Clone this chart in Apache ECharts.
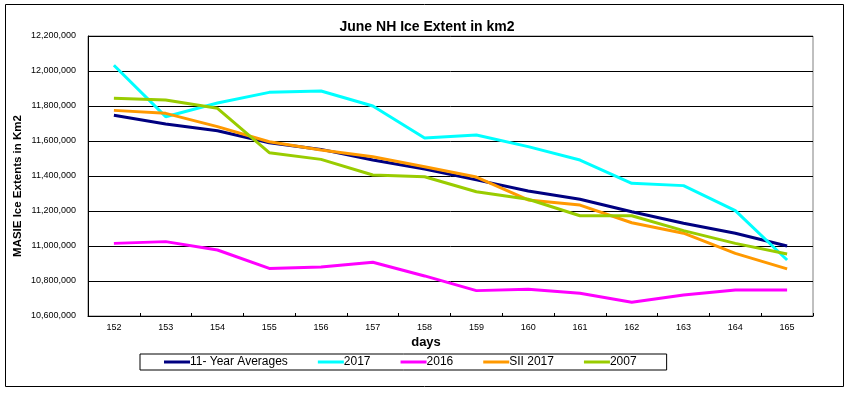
<!DOCTYPE html>
<html><head><meta charset="utf-8">
<script src="https://cdn.jsdelivr.net/npm/echarts@6/dist/echarts.min.js"></script>
<style>html,body{margin:0;padding:0;background:#fff}#c{width:854px;height:394px}</style>
</head><body><div id="c"></div>
<script>
var days = ['152','153','154','155','156','157','158','159','160','161','162','163','164','165'];
var avg11 = [11747000,11697000,11659000,11590000,11552000,11491000,11440000,11378000,11314000,11267000,11196000,11130000,11073000,11000000];
var y2017 = [12033000,11739000,11817000,11878000,11886000,11800000,11617000,11634000,11568000,11491000,11358000,11345000,11202000,10920000];
var y2016 = [11015000,11025000,10977000,10872000,10880000,10907000,10829000,10745000,10753000,10730000,10678000,10720000,10749000,10749000];
var sii2017 = [11775000,11758000,11682000,11596000,11549000,11510000,11453000,11394000,11263000,11234000,11133000,11073000,10958000,10869000];
var y2007 = [11844000,11834000,11787000,11533000,11495000,11406000,11396000,11310000,11267000,11173000,11173000,11088000,11015000,10954000];
var seriesNames = ['11- Year Averages','2017','2016','SII 2017','2007'];
var seriesColors = ['#000080','#00FFFF','#FF00FF','#FF9900','#99CC00'];
var seriesData = [avg11, y2017, y2016, sii2017, y2007];

var chart = echarts.init(document.getElementById('c'), null, {renderer:'canvas'});
var font = 'Arial, "Liberation Sans", sans-serif';
chart.setOption({
  animation:false,
  backgroundColor:'#fff',
  title:{text:'June NH Ice Extent in km2', left:'center', top:15,
    textStyle:{fontFamily:font, fontSize:14, fontWeight:'bold', color:'#000'}},
  grid:{left:88, top:36, width:725, height:280, show:true, borderColor:'#808080', borderWidth:1, backgroundColor:'transparent'},
  legend:{
    data: seriesNames.map(function(n){return {name:n, icon:'rect'};}),
    left:140, top:354, itemWidth:26, itemHeight:3, itemGap:30,
    padding:[2,30,2,24], borderColor:'#000', borderWidth:1,
    textStyle:{fontFamily:font, fontSize:12, color:'#000', padding:[0,0,0,-5]}
  },
  xAxis:{type:'category', data:days, boundaryGap:true,
    axisLine:{lineStyle:{color:'#000', width:1}},
    axisTick:{show:true, inside:true, length:3, lineStyle:{color:'#000'}},
    axisLabel:{fontFamily:font, fontSize:9, color:'#000', margin:7},
    splitLine:{show:false}},
  yAxis:{type:'value', min:10600000, max:12200000, interval:200000,
    axisLine:{show:true, lineStyle:{color:'#000', width:1}},
    axisTick:{show:false},
    axisLabel:{fontFamily:font, fontSize:9, color:'#000', margin:12,
      formatter:function(v){return v.toString().replace(/\B(?=(\d{3})+(?!\d))/g, ',');}},
    splitLine:{show:true, lineStyle:{color:'#000', width:1}}},
  graphic:[
    {type:'rect', shape:{x:5.5, y:4.5, width:838, height:382}, style:{fill:'none', stroke:'#000', lineWidth:1}, silent:true, z:-1},
    {type:'text', x:18, y:186, rotation:Math.PI/2,
      style:{text:'MASIE Ice Extents in Km2', font:'bold 11.5px '+font, fill:'#000', textAlign:'center', textVerticalAlign:'middle'}},
    {type:'text', x:426, y:342,
      style:{text:'days', font:'bold 13px '+font, fill:'#000', textAlign:'center', textVerticalAlign:'middle'}}
  ],
  series: seriesNames.map(function(n,i){
    return {name:n, type:'line', data:seriesData[i], showSymbol:false, symbol:'none',
      lineStyle:{color:seriesColors[i], width:3}, itemStyle:{color:seriesColors[i]}};
  })
});
</script></body></html>
